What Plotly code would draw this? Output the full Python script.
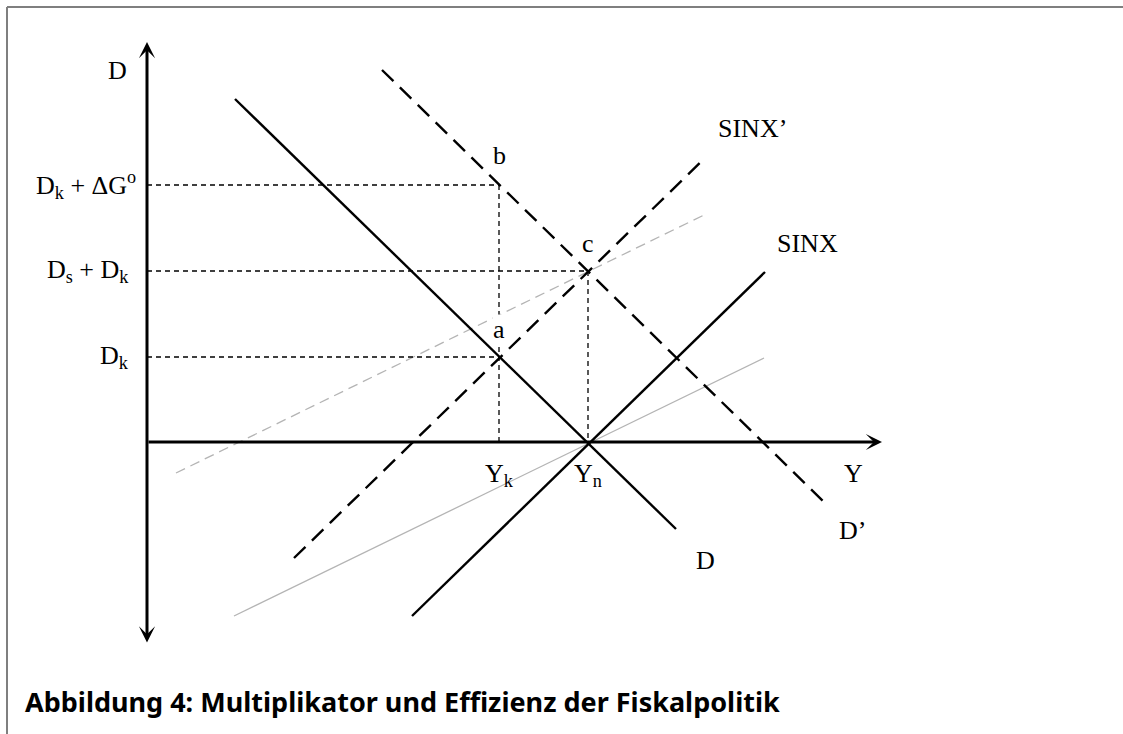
import plotly.graph_objects as go

# model units: 1 unit = 100 px, origin where the axes cross
Yk = 3.52
Yn = 4.41
Dk = 0.85
Ds_Dk = 1.71
Dk_dG = 2.57

# end points of the curves (x values, y values)
D_x = [0.88, 5.29]
D_y = [3.43, -0.87]
D2_x = [2.35, 6.76]
D2_y = [3.72, -0.59]
SINX_x = [2.65, 6.18]
SINX_y = [-1.74, 1.70]
SINX2_x = [1.47, 5.59]
SINX2_y = [-1.16, 2.85]
grey_x = [0.87, 6.17]
grey_y = [-1.74, 0.84]
grey2_x = [0.29, 5.59]
grey2_y = [-0.31, 2.28]

x_axis_end = 7.35
y_axis_top = 4.0
y_axis_bottom = -2.02

serif = "Liberation Serif"

fig = go.Figure()


def seg(x, y, color="black", width=2.4, dash="solid"):
    fig.add_trace(go.Scatter(x=x, y=y, mode="lines",
                             line=dict(color=color, width=width, dash=dash),
                             hoverinfo="skip", showlegend=False))


# grey helper lines
seg(grey_x, grey_y, color="#b4b4b4", width=1.3)
seg(grey2_x, grey2_y, color="#b4b4b4", width=1.3, dash="10px,6px")

# dotted guides
guide = dict(color="black", width=1.3, dash="5px,4px")
seg([0, Yk], [Dk_dG, Dk_dG], **guide)
seg([0, Yn], [Ds_Dk, Ds_Dk], **guide)
seg([0, Yk], [Dk, Dk], **guide)
seg([Yk, Yk], [Dk_dG, 0], **guide)
seg([Yn, Yn], [Ds_Dk, 0], **guide)

# main curves
seg(D_x, D_y)
seg(SINX_x, SINX_y)
seg(D2_x, D2_y, dash="16px,9px")
seg(SINX2_x, SINX2_y, dash="16px,9px")

# axes with arrow heads
fig.add_annotation(x=x_axis_end, y=0, ax=0, ay=0, xref="x", yref="y",
                   axref="x", ayref="y", text="", showarrow=True,
                   arrowhead=3, arrowsize=0.9, arrowwidth=3, arrowcolor="black",
                   standoff=0)
fig.add_annotation(x=0, y=y_axis_top, ax=0, ay=y_axis_bottom, xref="x", yref="y",
                   axref="x", ayref="y", text="", showarrow=True,
                   arrowhead=3, startarrowhead=3, arrowside="end+start",
                   arrowsize=0.9, startarrowsize=0.9, arrowwidth=3,
                   arrowcolor="black", standoff=0, startstandoff=0)

labels = [
    # text, x, y, xanchor, yshift, white background
    ("D", -0.30, 3.72, "center", 0, False),
    ("D<sub>k</sub> + ΔG<sup>o</sup>", -0.10, Dk_dG, "right", 0, False),
    ("D<sub>s</sub> + D<sub>k</sub>", -0.17, Ds_Dk, "right", 0, False),
    ("D<sub>k</sub>", -0.17, Dk, "right", 0, False),
    ("a", Yk, Dk, "center", 28, True),
    ("b", Yk, Dk_dG, "center", 30, False),
    ("c", Yn, Ds_Dk, "center", 28, False),
    ("Y<sub>k</sub>", Yk, 0, "center", -33, False),
    ("Y<sub>n</sub>", Yn, 0, "center", -33, False),
    ("Y", 7.06, -0.31, "center", 0, False),
    ("D’", 7.05, -0.88, "center", 0, False),
    ("D", 5.58, -1.18, "center", 0, False),
    ("SINX’", 6.05, 3.14, "center", 0, False),
    ("SINX", 6.60, 1.99, "center", 0, False),
]
for text, x, y, xa, ys, bg in labels:
    fig.add_annotation(x=x, y=y, xref="x", yref="y", text=text, showarrow=False,
                       xanchor=xa, yanchor="middle", yshift=ys,
                       bgcolor="white" if bg else None, borderpad=0,
                       font=dict(family=serif, size=26, color="black"))

# caption
fig.add_annotation(x=23 / 1123, y=1 - 701 / 734, xref="paper", yref="paper",
                   text="<b>Abbildung 4: Multiplikator und Effizienz der Fiskalpolitik</b>",
                   showarrow=False, xanchor="left", yanchor="middle",
                   font=dict(family="Noto Sans", size=27, color="black"))

# frame (top and left edge)
fig.add_shape(type="line", xref="paper", yref="paper", x0=7 / 1123, x1=1,
              y0=1 - 7 / 734, y1=1 - 7 / 734, line=dict(color="#7f7f7f", width=2))
fig.add_shape(type="line", xref="paper", yref="paper", x0=7 / 1123, x1=7 / 1123,
              y0=0, y1=1 - 7 / 734, line=dict(color="#7f7f7f", width=2))

fig.update_xaxes(range=[-1.47, 9.76], visible=False, fixedrange=True)
fig.update_yaxes(range=[-2.92, 4.42], visible=False, fixedrange=True)
fig.update_layout(width=1123, height=734, margin=dict(l=0, r=0, t=0, b=0),
                  plot_bgcolor="white", paper_bgcolor="white")

fig.write_html("out.html", config={"displayModeBar": False},
               post_script="document.body.style.margin='0';"
                           "document.body.style.overflow='hidden';")
